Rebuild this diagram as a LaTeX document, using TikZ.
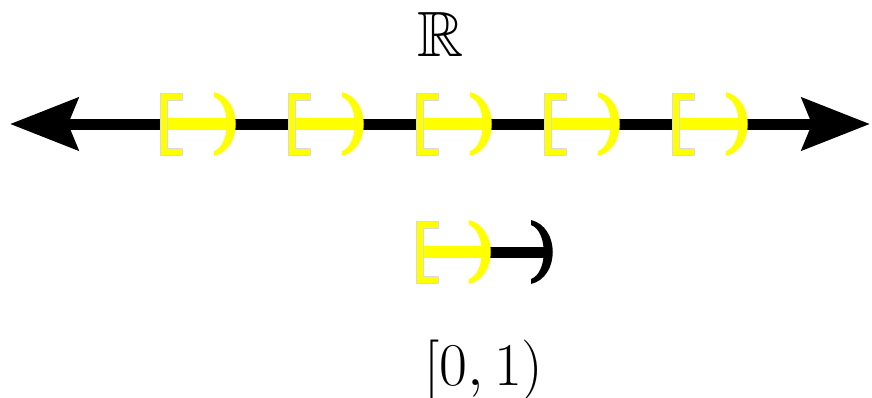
\documentclass[tikz,border=0pt]{standalone}
\usepackage{amssymb}
\usepackage{graphicx}
\usetikzlibrary{arrows.meta}
\definecolor{yel}{RGB}{255,255,0}
\tikzset{
  axisline/.style={line width=5.5pt, black},
  band/.style={line width=6pt, yel},
  blackband/.style={line width=5.5pt, black},
  lbr/.pic={\fill[yel, draw=black!15, line width=0.2pt]
      (0,-31) -- (22,-31) -- (22,-24) -- (7,-24) -- (7,24) -- (22,24) -- (22,31) -- (0,31) -- cycle;},
  rpar/.pic={\fill[pic actions]
      (-22,-32) .. controls (7,-25) and (7,25) .. (-22,32)
      -- (-22,27) .. controls (-5,21) and (-5,-21) .. (-22,-27) -- cycle;},
  lbl/.style={font=\fontsize{24.88}{30}\selectfont, inner sep=0pt},
  rlbl/.style={font=\fontsize{32}{38}\selectfont, inner sep=0pt}
}
\begin{document}
\begin{tikzpicture}[x=0.5pt,y=-0.5pt]
\useasboundingbox (0,0) rectangle (872,397);
\coordinate (L) at (10,124);
\coordinate (R) at (870,124);
\draw[axisline, {Stealth[length=34pt,width=26pt,inset=5pt]}-{Stealth[length=34pt,width=26pt,inset=5pt]}] (L) -- (R);
\foreach \b in {160,288,416,544,672}{
  \coordinate (s\b) at (\b+3,124);
  \coordinate (e\b) at (\b+70,124);
  \draw[band] (s\b) -- (e\b);
  \pic at (\b,124) {lbr};
  \pic[yel] at (\b+76,124) {rpar};
}
\node[rlbl, anchor=base] (reals) at (441,56) {$\mathbb{R}$};
% bottom row
\coordinate (bs) at (419,252);
\coordinate (bm) at (485,252);
\coordinate (be) at (548,252);
\draw[blackband] (bm) -- (be);
\draw[band] (bs) -- (bm);
\pic at (416,252) {lbr};
\pic[yel] at (491,252) {rpar};
\pic[black] at (553,252) {rpar};
\node[lbl, anchor=base] (unit) at (484,385) {\scalebox{1.22}{$[0,1)$}};
\end{tikzpicture}
\end{document}
